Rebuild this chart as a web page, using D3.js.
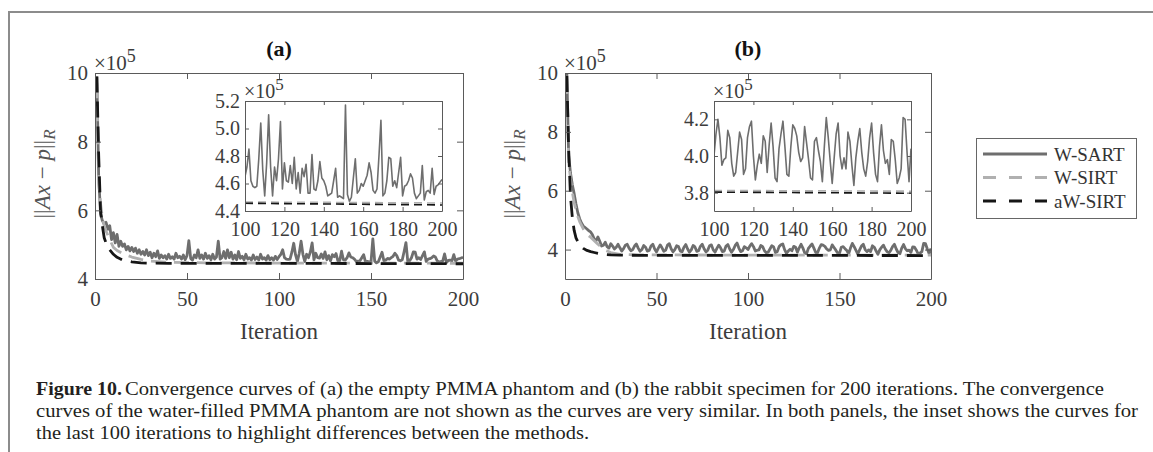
<!DOCTYPE html>
<html>
<head>
<meta charset="utf-8">
<title>Convergence curves</title>
<script src="https://cdn.jsdelivr.net/npm/d3@7"></script>
<style>
  body { margin: 0; background: #fff; }
  svg text { font-family: "Liberation Serif", "DejaVu Serif", serif; }
</style>
</head>
<body>
<script>
// ---- data (values in units of 10^5) ----
var seriesNames = ["W-SART", "W-SIRT", "aW-SIRT"];
var xTicks = [0, 50, 100, 150, 200];
var insetXTicks = [100, 120, 140, 160, 180, 200];
var yTicksA = [4, 6, 8, 10];
var yTicksB = [4, 6, 8, 10];
var insetYTicksA = [4.4, 4.6, 4.8, 5.0, 5.2];
var insetYTicksB = [3.8, 4.0, 4.2];

// W-SART, one value per iteration 1..200
var wsartA = [
  9.9, 7.0, 5.9, 5.7, 5.6, 5.65, 5.45, 5.55, 5.15, 5.35,
  5.05, 5.3, 4.95, 5.1, 4.95, 5.02, 4.85, 4.95, 4.82, 4.92,
  4.8, 4.9, 4.75, 4.85, 4.72, 4.8, 4.7, 4.85, 4.68, 4.78,
  4.62, 4.75, 4.65, 4.82, 4.6, 4.7, 4.62, 4.68, 4.58, 4.72,
  4.6, 4.65, 4.58, 4.75, 4.62, 4.66, 4.58, 4.7, 4.56, 4.68,
  5.12, 4.6, 4.55, 4.7, 4.62, 4.85, 4.6, 4.7, 4.58, 4.75,
  4.6, 4.68, 4.56, 4.72, 4.58, 4.64, 5.1, 4.58, 4.62, 4.8,
  4.6, 4.85, 4.62, 4.78, 4.58, 4.7, 4.56, 4.8, 4.6, 4.66,
  4.56, 4.72, 4.58, 4.62, 4.55, 4.7, 4.57, 4.64, 4.55, 4.72,
  4.58, 4.62, 4.55, 4.68, 4.56, 4.62, 4.55, 4.66, 4.57,
  4.65, 4.72, 4.85, 4.62, 4.58, 4.57, 4.58, 4.78, 5.04, 4.70,
  4.51, 4.75, 5.10, 4.72, 4.51, 4.72, 4.62, 4.78, 5.05, 4.56,
  4.75, 4.62, 4.61, 4.73, 4.60, 4.79, 4.56, 4.68, 4.53, 4.71,
  4.65, 4.74, 4.53, 4.53, 4.81, 4.56, 4.55, 4.62, 4.76, 4.64,
  4.62, 4.58, 4.51, 4.52, 4.53, 4.62, 4.71, 4.50, 4.51, 4.50,
  4.49, 5.17, 4.52, 4.47, 4.50, 4.64, 4.78, 4.53, 4.55, 4.60,
  4.58, 4.62, 4.66, 4.75, 4.68, 4.55, 4.53, 4.56, 4.80, 5.06,
  4.51, 4.53, 4.62, 4.79, 4.78, 4.58, 4.62, 4.57, 4.68, 4.79,
  4.51, 4.58, 4.59, 4.62, 4.67, 4.64, 4.53, 4.49, 4.51, 4.53,
  4.73, 4.48, 4.54, 4.55, 4.53, 4.71, 4.52, 4.58, 4.59, 4.61,
  4.63
];
var wsartB = [
  10.0, 7.2, 6.6, 6.2, 5.9, 5.55, 5.25, 5.05, 4.9, 4.8,
  4.75, 4.7, 4.64, 4.6, 4.5, 4.36, 4.3, 4.43, 4.28, 4.12,
  4.15, 4.25, 4.10, 4.05, 4.20, 4.12, 4.02, 4.08, 4.18, 4.06,
  3.95, 4.03, 4.15, 4.18, 4.05, 3.96, 4.00, 4.12, 4.19, 4.05,
  3.94, 4.00, 4.14, 4.08, 3.95, 3.97, 4.12, 4.18, 4.02, 3.92,
  4.05, 4.16, 4.06, 3.94, 3.98, 4.15, 4.20, 4.03, 3.92, 4.00,
  4.13, 4.10, 3.95, 3.93, 4.08, 4.17, 4.02, 3.91, 3.99, 4.14,
  4.09, 3.94, 3.96, 4.11, 4.18, 4.03, 3.92, 3.98, 4.13, 4.16,
  3.99, 3.91, 4.04, 4.15, 4.06, 3.93, 3.95, 4.12, 4.17, 4.02,
  3.91, 4.00, 4.14, 4.22, 4.05, 3.93, 3.96, 4.10, 4.06,
  4.00, 4.12, 4.20, 4.10, 3.95, 3.98, 3.99, 4.14, 4.10, 3.96,
  3.89, 3.91, 4.02, 4.13, 4.09, 3.90, 3.93, 4.10, 4.16, 4.19,
  4.00, 3.87, 3.95, 4.01, 3.96, 4.11, 4.08, 3.91, 4.06, 4.18,
  4.05, 3.88, 3.86, 4.04, 4.12, 4.19, 4.05, 3.90, 3.89, 4.05,
  4.17, 4.15, 4.11, 4.02, 3.97, 3.99, 4.16, 4.07, 3.98, 3.88,
  3.87, 4.08, 4.10, 4.03, 3.97, 3.86, 4.05, 4.21, 4.10, 3.97,
  3.85, 3.99, 4.12, 4.18, 4.00, 3.93, 3.99, 3.93, 4.13, 4.08,
  3.95, 3.84, 3.99, 4.08, 4.15, 4.02, 3.93, 3.89, 3.97, 4.10,
  4.18, 4.02, 3.90, 3.86, 4.05, 4.17, 4.03, 3.96, 3.98, 3.90,
  4.09, 4.08, 3.98, 3.85, 3.88, 3.93, 4.21, 4.20, 4.02, 3.86,
  4.04
];

var smoothItersA = [1, 2, 3, 4, 5, 6, 8, 10, 12, 15, 20, 25, 30, 40, 60, 100, 150, 200];
var wsirtA  = [9.7, 6.8, 6.2, 5.8, 5.55, 5.4, 5.15, 4.92, 4.83, 4.74, 4.64, 4.57, 4.52, 4.49, 4.47, 4.465, 4.462, 4.458];
var awsirtA = [9.9, 7.6, 6.0, 5.55, 5.2, 5.05, 4.85, 4.72, 4.63, 4.55, 4.5, 4.47, 4.462, 4.458, 4.457, 4.456, 4.45, 4.444];

var smoothItersB = [1, 2, 3, 4, 5, 6, 7, 8, 10, 12, 14, 16, 18, 20, 22, 25, 30, 40, 100, 150, 200];
var wsirtB  = [9.8, 7.0, 6.4, 5.95, 5.6, 5.35, 5.12, 4.95, 4.7, 4.52, 4.42, 4.3, 4.18, 4.08, 3.98, 3.9, 3.84, 3.82, 3.812, 3.81, 3.808];
var awsirtB = [9.9, 7.4, 5.8, 5.1, 4.65, 4.4, 4.27, 4.16, 4.04, 3.97, 3.93, 3.9, 3.87, 3.85, 3.835, 3.82, 3.81, 3.805, 3.803, 3.8, 3.797];

// ---- styles ----
var lineColor = ["#6e6e6e", "#b0b0b0", "#161616"];
var mainDash = [null, "15,8", "16,9"];
var insetDash = [null, "8,5", "8,5"];
var axisColor = "#5a5a5a";
var textColor = "#3c3c3c";

var svg = d3.select("body").append("svg")
  .attr("width", 1153)
  .attr("height", 452);

// outer frame (top and left rule)
svg.append("path")
  .attr("d", "M9,452V12H1153")
  .attr("fill", "none")
  .attr("stroke", "#8c8c8c")
  .attr("stroke-width", 2);

function pairs(xs, ys) {
  return xs.map(function (d, i) { return [d, ys[i]]; });
}
function perIter(ys) {
  return ys.map(function (v, i) { return [i + 1, v]; });
}

// draws one box-style axes with inward ticks and the three curves
function drawAxes(o) {
  var g = svg.append("g");
  var x = d3.scaleLinear().domain(o.xDomain).range([o.left, o.right]);
  var y = d3.scaleLinear().domain(o.yDomain).range([o.bottom, o.top]);

  g.append("rect")
    .attr("x", o.left).attr("y", o.top)
    .attr("width", o.right - o.left).attr("height", o.bottom - o.top)
    .attr("fill", "#fff");

  svg.append("clipPath").attr("id", o.id)
    .append("rect")
    .attr("x", o.left).attr("y", o.top)
    .attr("width", o.right - o.left).attr("height", o.bottom - o.top);

  var line = d3.line()
    .x(function (d) { return x(d[0]); })
    .y(function (d) { return y(d[1]); });

  var curves = g.append("g").attr("clip-path", "url(#" + o.id + ")");
  o.series.forEach(function (s, i) {
    var pts = s.filter(function (d) { return d[0] >= o.xDomain[0]; });
    curves.append("path")
      .attr("d", line(pts))
      .attr("fill", "none")
      .attr("stroke", lineColor[i])
      .attr("stroke-width", o.lineWidth)
      .attr("stroke-linejoin", "round")
      .attr("stroke-dasharray", o.dash[i]);
  });

  var ts = o.tickLen;
  var bottom = g.append("g")
    .attr("transform", "translate(0," + o.bottom + ")")
    .call(d3.axisBottom(x).tickValues(o.xTicks).tickSize(-ts).tickSizeOuter(0).tickPadding(o.xPad));
  var top = g.append("g")
    .attr("transform", "translate(0," + o.top + ")")
    .call(d3.axisTop(x).tickValues(o.xTicks).tickSize(-ts).tickSizeOuter(0).tickFormat(""));
  var left = g.append("g")
    .attr("transform", "translate(" + o.left + ",0)")
    .call(d3.axisLeft(y).tickValues(o.yTicks).tickSize(-ts).tickSizeOuter(0)
      .tickPadding(o.yPad).tickFormat(d3.format(o.yFormat)));
  var right = g.append("g")
    .attr("transform", "translate(" + o.right + ",0)")
    .call(d3.axisRight(y).tickValues(o.yTicks).tickSize(-ts).tickSizeOuter(0).tickFormat(""));

  [bottom, top, left, right].forEach(function (a) {
    a.select(".domain").attr("stroke", axisColor).attr("stroke-width", 1);
    a.selectAll(".tick line").attr("stroke", axisColor);
    a.selectAll(".tick text")
      .attr("fill", textColor)
      .style("font-family", "'Liberation Serif', serif")
      .style("font-size", o.fontSize + "px");
  });

  // x10^5 exponent label
  var ex = g.append("text")
    .attr("x", o.left - 1)
    .attr("y", o.top - 3)
    .attr("fill", textColor)
    .style("font-size", o.fontSize + "px");
  ex.append("tspan").text("\u00d710");
  ex.append("tspan").attr("dy", -8).style("font-size", (o.fontSize - 3) + "px").text("5");

  return { x: x, y: y, g: g };
}

function drawPanel(p) {
  drawAxes({
    id: p.id + "main",
    left: p.left, right: p.right, top: 73, bottom: 279,
    xDomain: [0, 200], yDomain: p.yDomain,
    xTicks: xTicks, yTicks: p.yTicks, yFormat: "d",
    series: p.series, lineWidth: 2.8, dash: mainDash,
    tickLen: 6, xPad: 12, yPad: 7, fontSize: 21
  });

  // panel title
  svg.append("text")
    .attr("x", (p.left + p.right) / 2)
    .attr("y", 56)
    .attr("text-anchor", "middle")
    .attr("fill", "#111")
    .style("font-size", "22px")
    .style("font-weight", "bold")
    .text(p.title);

  // x label
  svg.append("text")
    .attr("x", (p.left + p.right) / 2)
    .attr("y", 339)
    .attr("text-anchor", "middle")
    .attr("fill", textColor)
    .style("font-size", "23px")
    .text("Iteration");

  // y label ||Ax - p||_R
  var yl = svg.append("text")
    .attr("transform", "translate(" + (p.left - 45) + ",174) rotate(-90)")
    .attr("text-anchor", "middle")
    .attr("fill", "#555")
    .style("font-size", "23px");
  yl.append("tspan").text("||");
  yl.append("tspan").style("font-style", "italic").text("Ax");
  yl.append("tspan").text(" \u2212 ");
  yl.append("tspan").style("font-style", "italic").text("p");
  yl.append("tspan").text("||");
  yl.append("tspan").attr("dy", 5).style("font-style", "italic").style("font-size", "17px").text("R");

  // inset with the last 100 iterations
  drawAxes({
    id: p.id + "inset",
    left: p.insetLeft, right: p.insetLeft + 197, top: 101, bottom: 211,
    xDomain: [100, 200], yDomain: p.insetDomain,
    xTicks: insetXTicks, yTicks: p.insetTicks, yFormat: ".1f",
    series: p.series, lineWidth: 1.6, dash: insetDash,
    tickLen: 4, xPad: 11, yPad: 5, fontSize: 20
  });
}

drawPanel({
  id: "a", title: "(a)", left: 95, right: 463,
  yDomain: [4, 10], yTicks: yTicksA,
  insetLeft: 245, insetDomain: [4.4, 5.2], insetTicks: insetYTicksA,
  series: [perIter(wsartA), pairs(smoothItersA, wsirtA), pairs(smoothItersA, awsirtA)]
});
drawPanel({
  id: "b", title: "(b)", left: 565, right: 931,
  yDomain: [3, 10], yTicks: yTicksB,
  insetLeft: 714, insetDomain: [3.7, 4.3], insetTicks: insetYTicksB,
  series: [perIter(wsartB), pairs(smoothItersB, wsirtB), pairs(smoothItersB, awsirtB)]
});

// legend
var legend = svg.append("g");
legend.append("rect")
  .attr("x", 976.5).attr("y", 138.5)
  .attr("width", 160).attr("height", 80)
  .attr("fill", "#fff")
  .attr("stroke", "#666");
var rowY = d3.scaleLinear().domain([0, 2]).range([154, 201]);
var legendDash = [null, "13,13", "13,13"];
seriesNames.forEach(function (name, i) {
  legend.append("line")
    .attr("x1", 983).attr("x2", 1047)
    .attr("y1", rowY(i)).attr("y2", rowY(i))
    .attr("stroke", lineColor[i])
    .attr("stroke-width", 2.8)
    .attr("stroke-dasharray", legendDash[i]);
  legend.append("text")
    .attr("x", 1054).attr("y", rowY(i))
    .attr("dy", "0.35em")
    .attr("fill", "#333")
    .style("font-size", "19px")
    .text(name);
});

// caption
var cap = svg.append("g").attr("fill", "#231f20").style("font-size", "18px");
cap.append("text")
  .attr("x", 36).attr("y", 395)
  .style("font-weight", "bold")
  .attr("textLength", 86).attr("lengthAdjust", "spacingAndGlyphs")
  .text("Figure 10.");
cap.append("text")
  .attr("x", 125).attr("y", 395)
  .attr("textLength", 979).attr("lengthAdjust", "spacingAndGlyphs")
  .text("Convergence curves of (a) the empty PMMA phantom and (b) the rabbit specimen for 200 iterations. The convergence");
cap.append("text")
  .attr("x", 36).attr("y", 417)
  .attr("textLength", 1102).attr("lengthAdjust", "spacingAndGlyphs")
  .text("curves of the water-filled PMMA phantom are not shown as the curves are very similar. In both panels, the inset shows the curves for");
cap.append("text")
  .attr("x", 36).attr("y", 439)
  .attr("textLength", 553).attr("lengthAdjust", "spacingAndGlyphs")
  .text("the last 100 iterations to highlight differences between the methods.");
</script>
</body>
</html>
